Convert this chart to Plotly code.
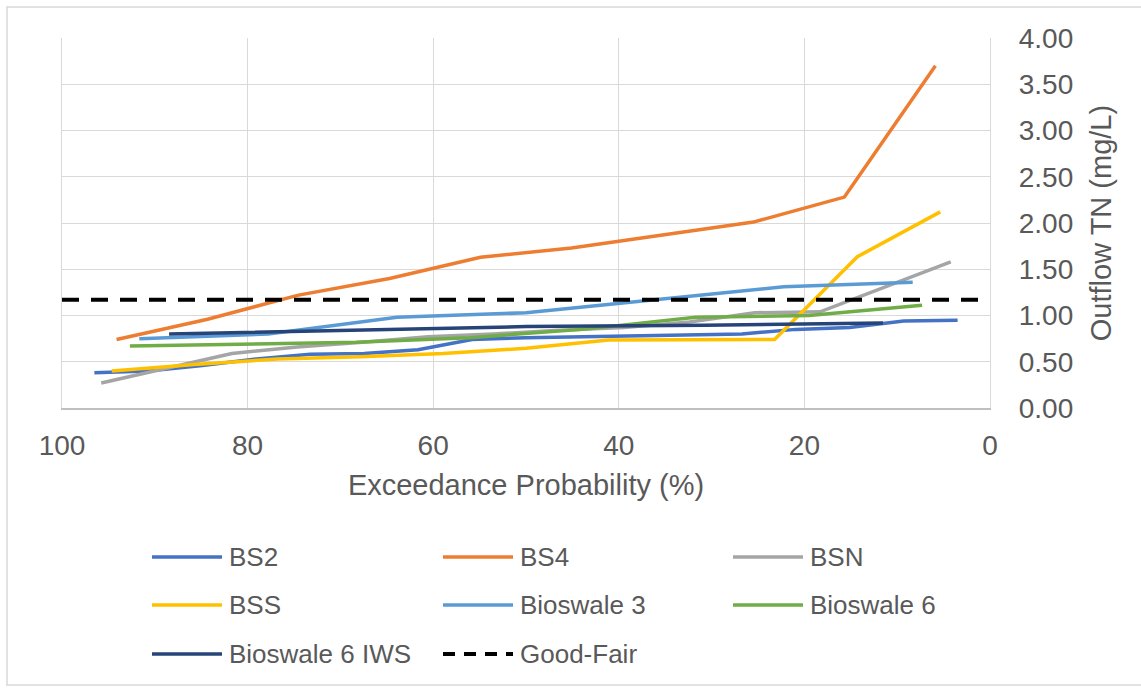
import plotly.graph_objects as go

# ---------------- data ----------------
bs2_x = [96.51, 90.70, 84.88, 79.07, 73.26, 67.44, 61.63, 55.81, 50.0, 44.19, 38.37, 32.56, 26.74, 20.93, 15.12, 9.30, 3.49]
bs2_y = [0.38, 0.40, 0.46, 0.53, 0.58, 0.59, 0.63, 0.74, 0.76, 0.77, 0.78, 0.79, 0.80, 0.85, 0.87, 0.94, 0.95]

bs4_x = [94.12, 84.31, 74.51, 64.71, 54.90, 45.10, 35.29, 25.49, 15.69, 5.88]
bs4_y = [0.74, 0.96, 1.22, 1.40, 1.63, 1.73, 1.87, 2.01, 2.28, 3.70]

bsn_x = [95.77, 88.73, 81.69, 74.65, 67.61, 60.56, 53.52, 46.48, 39.44, 32.39, 25.35, 18.31, 11.27, 4.23]
bsn_y = [0.27, 0.43, 0.59, 0.66, 0.71, 0.77, 0.80, 0.84, 0.87, 0.93, 1.03, 1.04, 1.31, 1.58]

bss_x = [94.64, 85.71, 76.79, 67.86, 58.93, 50.0, 41.07, 32.14, 23.21, 14.29, 5.36]
bss_y = [0.40, 0.47, 0.53, 0.555, 0.59, 0.645, 0.735, 0.74, 0.74, 1.635, 2.12]

bio3_x = [91.67, 77.78, 63.89, 50.0, 36.11, 22.22, 8.33]
bio3_y = [0.75, 0.80, 0.98, 1.03, 1.17, 1.31, 1.36]

bio6_x = [92.68, 80.49, 68.29, 56.10, 43.90, 31.71, 19.51, 7.32]
bio6_y = [0.67, 0.69, 0.71, 0.76, 0.85, 0.98, 1.00, 1.11]

bio6iws_x = [88.46, 69.23, 50.0, 30.77, 11.54]
bio6iws_y = [0.80, 0.84, 0.88, 0.895, 0.92]

good_fair_x = [100, 0]
good_fair_level = 1.17

series_names = ["BS2", "BS4", "BSN", "BSS", "Bioswale 3", "Bioswale 6", "Bioswale 6 IWS", "Good-Fair"]
series_colors = ["#4472C4", "#ED7D31", "#A5A5A5", "#FFC000", "#5B9BD5", "#70AD47", "#264478", "#000000"]

x_ticks = [100, 80, 60, 40, 20, 0]
y_ticks = [0, 0.5, 1.0, 1.5, 2.0, 2.5, 3.0, 3.5, 4.0]

# ---------------- figure ----------------
W, H = 1141, 690
L, R, T, B = 62, 990, 38, 408  # plot area in pixels
PW, PH = R - L, B - T

fig = go.Figure()
xs = [bs2_x, bs4_x, bsn_x, bss_x, bio3_x, bio6_x, bio6iws_x]
ys = [bs2_y, bs4_y, bsn_y, bss_y, bio3_y, bio6_y, bio6iws_y]
for name, color, x, y in zip(series_names[:7], series_colors[:7], xs, ys):
    fig.add_trace(go.Scatter(x=x, y=y, mode="lines", name=name,
                             line=dict(color=color, width=3.5), showlegend=False))
fig.add_trace(go.Scatter(x=good_fair_x, y=[good_fair_level] * len(good_fair_x), mode="lines",
                         name="Good-Fair", showlegend=False,
                         line=dict(color="#000000", width=4, dash="17px,12px")))

text_color = "#595959"
grid_color = "#D9D9D9"
font_family = "Liberation Sans, Arial, sans-serif"

fig.update_layout(
    width=W, height=H,
    margin=dict(l=L, r=W - R, t=T, b=H - B),
    paper_bgcolor="white", plot_bgcolor="white",
    font=dict(family=font_family, color=text_color),
    showlegend=False,
    xaxis=dict(range=[100, 0], tickvals=x_ticks, ticktext=[str(v) for v in x_ticks],
               showgrid=True, gridcolor=grid_color, gridwidth=1.3, zeroline=False,
               showline=True, linecolor="#BFBFBF", linewidth=1.5,
               ticks="", tickfont=dict(size=28, color=text_color), ticklabelstandoff=12,
               title=dict(text="Exceedance Probability (%)", font=dict(size=29, color=text_color), standoff=14)),
    yaxis=dict(range=[0, 4], tickvals=y_ticks, tickformat=".2f", side="right",
               showgrid=True, gridcolor=grid_color, gridwidth=1.3, zeroline=False,
               showline=True, mirror=True, linecolor=grid_color, linewidth=1.3,
               ticks="", tickfont=dict(size=28, color=text_color), ticklabelstandoff=22,
               title=dict(text="Outflow TN (mg/L)", font=dict(size=29, color=text_color), standoff=18)),
)

def px_x(p):
    return (p - L) / PW

def px_y(p):
    return (B - p) / PH

# chart border
fig.add_shape(type="rect", xref="paper", yref="paper",
              x0=px_x(7), x1=px_x(1160), y0=px_y(685), y1=px_y(7),
              line=dict(color="#D9D9D9", width=1.5), layer="below")

# custom legend (3 columns)
col_line_x = [152, 443, 733]
row_y = [557, 605, 654]
for i, (name, color) in enumerate(zip(series_names, series_colors)):
    r, c = divmod(i, 3)
    x0 = col_line_x[c]
    yy = px_y(row_y[r])
    dash = "12px,9px" if name == "Good-Fair" else "solid"
    fig.add_shape(type="line", xref="paper", yref="paper",
                  x0=px_x(x0), x1=px_x(x0 + 70), y0=yy, y1=yy,
                  line=dict(color=color, width=4 if name == "Good-Fair" else 3.5, dash=dash))
    fig.add_annotation(xref="paper", yref="paper", x=px_x(x0 + 75), y=yy,
                       xanchor="left", yanchor="middle", showarrow=False,
                       text=name, font=dict(size=26, color=text_color, family=font_family))

fig.write_html("out.html")
